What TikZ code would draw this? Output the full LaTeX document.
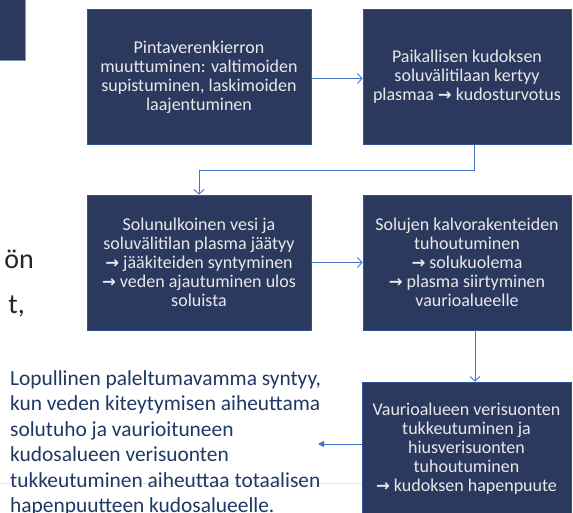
\documentclass[tikz,border=0pt]{standalone}
\usepackage{fontspec}
\setmainfont{Carlito}
\newfontfamily\arrowfont{DejaVu Sans}
\newcommand\myarr{{\arrowfont\bfseries\fontsize{16.5}{19}\selectfont →}}
\usetikzlibrary{arrows.meta}
\definecolor{navy}{RGB}{44,57,95}
\definecolor{edgeblue}{RGB}{47,85,151}
\definecolor{connblue}{RGB}{68,114,196}
\definecolor{boxtext}{RGB}{232,232,232}
\definecolor{bodytext}{RGB}{31,56,100}
\definecolor{fragtext}{RGB}{38,38,38}
\definecolor{faint}{RGB}{232,232,232}
\begin{document}
\begin{tikzpicture}[x=1pt,y=-1pt,
  stepbox/.style={draw=edgeblue, line width=0.8pt, fill=navy, text=boxtext,
    align=center, font=\fontsize{18}{19}\selectfont, inner sep=0pt,
    minimum width=208pt, minimum height=135pt},
  widebox/.style={stepbox, minimum width=224pt},
  link/.style={draw=connblue, line width=0.9pt, -{Straight Barb[length=4.5pt,width=10pt]}},
  leftlink/.style={draw=connblue, line width=0.9pt, -{Triangle[length=6pt,width=6pt]}}]
\clip (0,0) rectangle (573,513);
\fill[white] (0,0) rectangle (573,513);
% cropped slide elements
\node[draw=edgeblue!60, fill=navy, line width=0.8pt, minimum width=45pt, minimum height=80pt, inner sep=0pt] (corner) at (2.5,20) {};
\node[anchor=base east, text=fragtext, font=\fontsize{28}{30}\selectfont, inner sep=0pt] (fragA) at (34,269) {ön};
\node[anchor=base east, text=fragtext, font=\fontsize{28}{30}\selectfont, inner sep=0pt] (fragB) at (25,313) {t,};
\coordinate (fl1) at (0,483);
\coordinate (fl2) at (362,483);
\draw[faint, line width=0.8pt] (fl1) -- (fl2);
% boxes
\node[widebox] (b1) at (199,77) {Pintaverenkierron\\muuttuminen: valtimoiden\\supistuminen, laskimoiden\\laajentuminen};
\node[stepbox] (b2) at (467,77) {Paikallisen kudoksen\\soluvälitilaan kertyy\\plasmaa \myarr{} kudosturvotus};
\node[widebox] (b3) at (199,262.5) {Solunulkoinen vesi ja\\soluvälitilan plasma jäätyy\\\myarr{} jääkiteiden syntyminen\\\myarr{} veden ajautuminen ulos\\soluista};
\node[stepbox] (b4) at (467,262.5) {Solujen kalvorakenteiden\\tuhoutuminen\\\myarr{} solukuolema\\\myarr{} plasma siirtyminen\\vaurioalueelle};
\node[stepbox, minimum width=209pt, minimum height=134pt] (b5) at (466.5,449) {Vaurioalueen verisuonten\\tukkeutuminen ja\\hiusverisuonten\\tuhoutuminen\\\myarr{} kudoksen hapenpuute};
% final text
\node[anchor=base west, align=left, text=bodytext, font=\fontsize{21.4}{25.5}\selectfont, inner sep=0pt] (final) at (10,512.5) {Lopullinen paleltumavamma syntyy,\\kun veden kiteytymisen aiheuttama\\solutuho ja vaurioituneen\\kudosalueen verisuonten\\tukkeutuminen aiheuttaa totaalisen\\hapenpuutteen kudosalueelle.};
\coordinate (tip) at (318,444);
% connectors
\draw[link] ([yshift=-1.5pt]b1.east) -- ([yshift=-1.5pt]b2.west);
\draw[link] ([xshift=7pt]b2.south) -- ++(0,26) -| (b3.north);
\draw[link] (b3.east) -- (b4.west);
\draw[link] ([xshift=8pt]b4.south) -- ([xshift=8pt]b4.south |- b5.north);
\draw[leftlink] ([yshift=5pt]b5.west) -- (tip);
\end{tikzpicture}
\end{document}
